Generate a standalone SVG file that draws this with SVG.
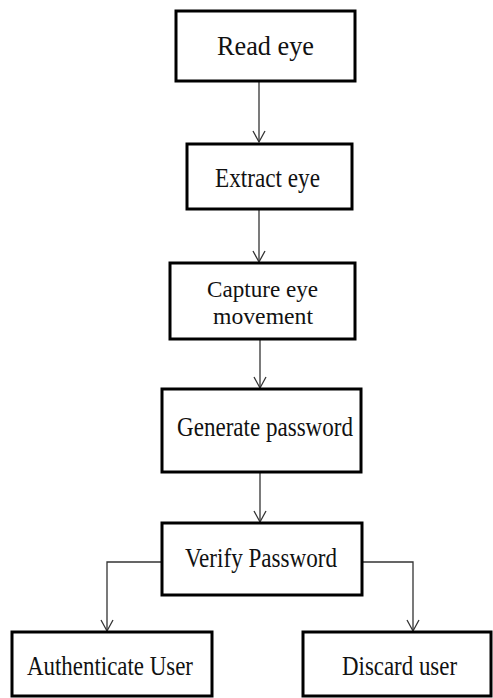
<svg xmlns="http://www.w3.org/2000/svg" width="493" height="698" viewBox="0 0 493 698">
<style>
.box{fill:#fff;stroke:#000;stroke-width:3}
.lbl{font-family:"Liberation Serif","Times New Roman",serif;font-size:27px;fill:#111;text-anchor:start}
.sm{font-size:23px}
.con{fill:none;stroke:#333;stroke-width:1.3}
</style>
<defs>
<marker id="arr" markerWidth="14" markerHeight="14" refX="12" refY="7" orient="auto" markerUnits="userSpaceOnUse">
<path d="M1,1 L12,7 L1,13" fill="none" stroke="#333" stroke-width="1.3"/>
</marker>
</defs>
<rect width="493" height="698" fill="#fff"/>
<g id="connectors">
<line class="con" x1="259" y1="81" x2="259" y2="142" marker-end="url(#arr)"/>
<line class="con" x1="259" y1="209" x2="259" y2="262" marker-end="url(#arr)"/>
<line class="con" x1="260" y1="340" x2="260" y2="388" marker-end="url(#arr)"/>
<line class="con" x1="260" y1="472" x2="260" y2="522" marker-end="url(#arr)"/>
<polyline class="con" points="162,562 107,562 107,631" marker-end="url(#arr)"/>
<polyline class="con" points="362,562 413,562 413,631" marker-end="url(#arr)"/>
</g>
<g id="n1"><rect class="box" x="176" y="11" width="179" height="70"/><text class="lbl" x="217" y="55" textLength="97" lengthAdjust="spacingAndGlyphs">Read eye</text></g>
<g id="n2"><rect class="box" x="187" y="144" width="165" height="65"/><text class="lbl" x="215" y="187" textLength="105" lengthAdjust="spacingAndGlyphs">Extract eye</text></g>
<g id="n3"><rect class="box" x="170" y="263" width="185" height="76"/><text class="lbl sm" x="207" y="297" textLength="111" lengthAdjust="spacingAndGlyphs">Capture eye</text><text class="lbl sm" x="213" y="324" textLength="100" lengthAdjust="spacingAndGlyphs">movement</text></g>
<g id="n4"><rect class="box" x="162" y="389" width="199" height="83"/><text class="lbl" x="177" y="436" textLength="176" lengthAdjust="spacingAndGlyphs">Generate password</text></g>
<g id="n5"><rect class="box" x="162" y="523" width="200" height="72"/><text class="lbl" x="185" y="567" textLength="152" lengthAdjust="spacingAndGlyphs">Verify Password</text></g>
<g id="n6"><rect class="box" x="12" y="632" width="200" height="64"/><text class="lbl" x="27" y="675" textLength="166" lengthAdjust="spacingAndGlyphs">Authenticate User</text></g>
<g id="n7"><rect class="box" x="303" y="632" width="188" height="64"/><text class="lbl" x="342" y="675" textLength="115" lengthAdjust="spacingAndGlyphs">Discard user</text></g>
</svg>
